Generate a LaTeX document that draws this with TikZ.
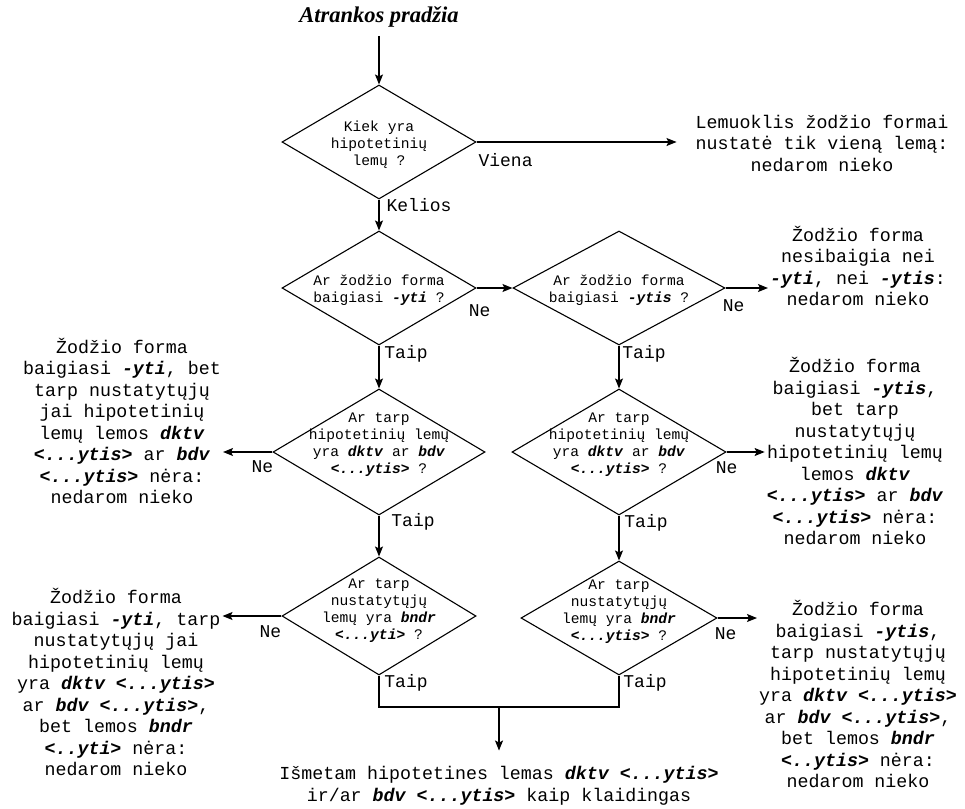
\documentclass[tikz,border=0pt]{standalone}
\usepackage{fontspec}
\setmainfont{Liberation Serif}
\newfontfamily\courfont{Liberation Mono}
\usetikzlibrary{arrows.meta, positioning, shapes.geometric, calc}
\newcommand{\kw}[1]{\textbf{\textit{#1}}}
\tikzset{
    decision/.style={diamond, draw, line width=1.1pt, inner sep=0pt},
    question/.style={font=\courfont\fontsize{14.6}{17}\selectfont, align=center, inner sep=0pt},
    result/.style={font=\courfont\fontsize{18.3}{21.5}\selectfont, align=center, inner sep=2pt},
    answer/.style={font=\courfont\fontsize{18}{20}\selectfont, inner sep=0pt},
    arrow style/.style={-{Stealth[length=10pt, width=8pt, inset=2pt]}, line width=1.1pt},
    line style/.style={line width=1.1pt},
}

\begin{document}
\begin{tikzpicture}[x=1pt, y=-1pt]
        \useasboundingbox (0,0) rectangle (965,808);

        % Start
        \node[font=\fontsize{22.5}{26}\selectfont\bfseries\itshape] (start) at (379,17) {Atrankos pradžia};

        % Decisions
        \node[decision, minimum width=194pt, minimum height=114pt,
            label={[question, yshift=-3pt]center:{Kiek yra\\hipotetinių\\lemų ?}}] (q1) at (379,142) {};
        \node[decision, minimum width=194pt, minimum height=114pt,
            label={[question, yshift=-2pt]center:{Ar žodžio forma\\baigiasi \kw{-yti} ?}}] (q2) at (379,288) {};
        \node[decision, minimum width=212pt, minimum height=114pt,
            label={[question, yshift=-2pt]center:{Ar žodžio forma\\baigiasi \kw{-ytis} ?}}] (q3) at (619,288) {};
        \node[decision, minimum width=212pt, minimum height=126pt,
            label={[question, yshift=7pt]center:{Ar tarp\\hipotetinių lemų\\yra \kw{dktv} ar \kw{bdv}\\\kw{<...ytis>} ?}}] (q4) at (379,452) {};
        \node[decision, minimum width=214pt, minimum height=126pt,
            label={[question, yshift=7pt]center:{Ar tarp\\hipotetinių lemų\\yra \kw{dktv} ar \kw{bdv}\\\kw{<...ytis>} ?}}] (q5) at (619,452) {};
        \node[decision, minimum width=194pt, minimum height=118pt,
            label={[question, yshift=5pt]center:{Ar tarp\\nustatytųjų\\lemų yra \kw{bndr}\\\kw{<...yti>} ?}}] (q6) at (379,616) {};
        \node[decision, minimum width=196pt, minimum height=114pt,
            label={[question, yshift=6pt]center:{Ar tarp\\nustatytųjų\\lemų yra \kw{bndr}\\\kw{<...ytis>} ?}}] (q7) at (619,618) {};

        % Results
        \node[result] (res1) at (822,143) {Lemuoklis žodžio formai\\nustatė tik vieną lemą:\\nedarom nieko};
        \node[result] (res2) at (858,266) {Žodžio forma\\nesibaigia nei\\\kw{-yti}, nei \kw{-ytis}:\\nedarom nieko};
        \node[result] (res3) at (122,421) {Žodžio forma\\baigiasi \kw{-yti}, bet\\tarp nustatytųjų\\jai hipotetinių\\lemų lemos \kw{dktv}\\\kw{<...ytis>} ar \kw{bdv}\\\kw{<...ytis>} nėra:\\nedarom nieko};
        \node[result] (res4) at (855,451) {Žodžio forma\\baigiasi \kw{-ytis},\\bet tarp\\nustatytųjų\\hipotetinių lemų\\lemos \kw{dktv}\\\kw{<...ytis>} ar \kw{bdv}\\\kw{<...ytis>} nėra:\\nedarom nieko};
        \node[result] (res5) at (116,682) {Žodžio forma\\baigiasi \kw{-yti}, tarp\\nustatytųjų jai\\hipotetinių lemų\\yra \kw{dktv <...ytis>}\\ar \kw{bdv <...ytis>},\\bet lemos \kw{bndr}\\\kw{<..yti>} nėra:\\nedarom nieko};
        \node[result] (res6) at (858,694) {Žodžio forma\\baigiasi \kw{-ytis},\\tarp nustatytųjų\\hipotetinių lemų\\yra \kw{dktv <...ytis>}\\ar \kw{bdv <...ytis>},\\bet lemos \kw{bndr}\\\kw{<..ytis>} nėra:\\nedarom nieko};
        \node[result] (final) at (499,786) {Išmetam hipotetines lemas \kw{dktv <...ytis>}\\ir/ar \kw{bdv <...ytis>} kaip klaidingas};

        % Answers
        \node[answer] (a1) at ([shift={(29,18)}]q1.east) {Viena};
        \node[answer] (a2) at ([shift={(40,6)}]q1.south) {Kelios};
        \node[answer] (a3) at ([shift={(3,23)}]q2.east) {Ne};
        \node[answer] (a4) at ([shift={(27,8)}]q2.south) {Taip};
        \node[answer] (a5) at ([shift={(8,18)}]q3.east) {Ne};
        \node[answer] (a6) at ([shift={(25,8)}]q3.south) {Taip};
        \node[answer] (a7) at ([shift={(-10,15)}]q4.west) {Ne};
        \node[answer] (a8) at ([shift={(34,6)}]q4.south) {Taip};
        \node[answer] (a9) at ([shift={(0,16)}]q5.east) {Ne};
        \node[answer] (a10) at ([shift={(27,7)}]q5.south) {Taip};
        \node[answer] (a11) at ([shift={(-11,16)}]q6.west) {Ne};
        \node[answer] (a12) at ([shift={(27,7)}]q6.south) {Taip};
        \node[answer] (a13) at ([shift={(8,16)}]q7.east) {Ne};
        \node[answer] (a14) at ([shift={(26,7)}]q7.south) {Taip};

        % Arrows
        \draw[arrow style, shorten <=5pt] (start) -- (q1);
        \draw[arrow style, shorten >=17pt] (q1.east) -- (q1.east -| res1.west);
        \draw[arrow style] (q1) -- (q2);
        \draw[arrow style] (q2) -- (q3);
        \draw[arrow style] (q3.east) -- (q3.east -| res2.west);
        \draw[arrow style] (q2) -- (q4);
        \draw[arrow style] (q3) -- (q5);
        \draw[arrow style] (q4.west) -- (q4.west -| res3.east);
        \draw[arrow style] (q5.east) -- (q5.east -| res4.west);
        \draw[arrow style] (q4) -- (q6);
        \draw[arrow style] (q5) -- (q7);
        \draw[arrow style] (q6.west) -- (q6.west -| res5.east);
        \draw[arrow style] (q7.east) -- (q7.east -| res6.west);

        % Join
        \coordinate (join) at (499,707);
        \draw[line style] (q6.south) |- (join) -| (q7.south);
        \draw[arrow style, shorten >=14pt] (join) -- (final.north);
    \end{tikzpicture}
\end{document}
